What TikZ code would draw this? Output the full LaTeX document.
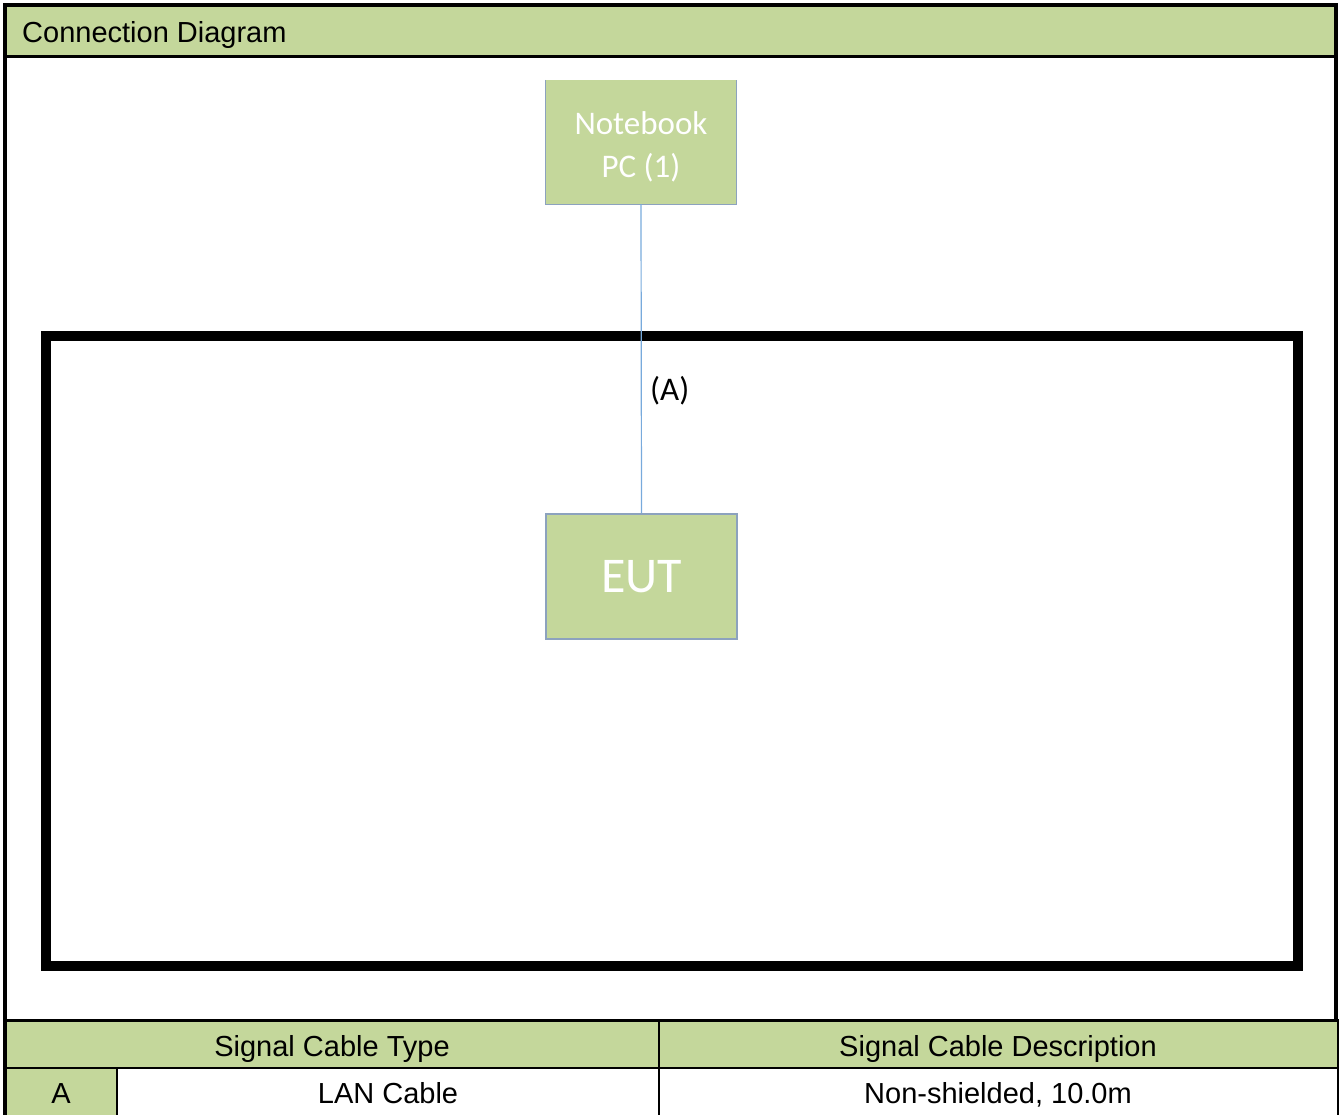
\documentclass[tikz,border=0pt]{standalone}
\usepackage{fontspec}
\setmainfont{Liberation Sans}
\newfontfamily\calibri{Carlito}
\definecolor{hdrgreen}{RGB}{196,215,155}
\definecolor{boxedge}{RGB}{140,162,190}
\definecolor{cableblue}{RGB}{120,170,220}

\tikzset{
  unitbox/.style={fill=hdrgreen, text=white, align=center, inner sep=0pt,
    minimum width=190, minimum height=124},
  cell/.style={font=\fontsize{29}{34}\selectfont, inner sep=0pt, anchor=base},
}

\begin{document}
\begin{tikzpicture}[x=1pt,y=-1pt]
      \useasboundingbox (0,0) rectangle (1341,1115);

      % Green bands
      \fill[hdrgreen] (4,4) rectangle (1337,57);
      \fill[hdrgreen] (4,1020) rectangle (1338,1068);
      \fill[hdrgreen] (4,1068) rectangle (117,1117);

      % Outer frame and table lines
      \draw[line width=4pt] (5,1117) -- (5,5) -- (1336,5) -- (1336,1020);
      \draw[line width=3pt] (4,57) -- (1337,57);
      \draw[line width=3pt] (4,1020) -- (1339,1020);
      \draw[line width=2pt] (4,1068) -- (1339,1068);
      \draw[line width=2.5pt] (1338,1020) -- (1338,1117);
      \draw[line width=2pt] (659,1020) -- (659,1117);
      \draw[line width=2pt] (117,1068) -- (117,1117);

      % Test area
      \draw[line width=10pt] (46,336) rectangle (1298,966);

      % Units
      \node[unitbox, font=\calibri\fontsize{33}{43}\selectfont] (notebook) at (641,142) {\rule{0pt}{32pt}Notebook\\PC (1)};
      \draw[boxedge, line width=1.2pt] (notebook.north west) -- (notebook.south west)
        -- (notebook.south east) -- (notebook.north east);
      \node[unitbox, draw=boxedge, line width=1.2pt, minimum width=191, minimum height=125,
        font=\calibri\fontsize{50}{56}\selectfont] (eut) at (641.5,576.5) {EUT};

      % Cable
      \draw[cableblue, line width=1.2pt] (notebook.south) -- (eut.north);
      \node[font=\calibri\fontsize{33}{38}\selectfont, anchor=west, inner sep=0pt] (cablelabel) at (650,391) {(A)};

      % Titles and table text
      \node[cell, anchor=base west] (title) at (22,43) {Connection Diagram};
      \node[cell] (typehead) at (332,1056) {Signal Cable Type};
      \node[cell] (deschead) at (998,1056) {Signal Cable Description};
      \node[cell] (cablea) at (61,1103) {A};
      \node[cell] (lancable) at (388,1103) {LAN Cable};
      \node[cell] (cabledesc) at (998,1103) {Non-shielded, 10.0m};
    \end{tikzpicture}
\end{document}
